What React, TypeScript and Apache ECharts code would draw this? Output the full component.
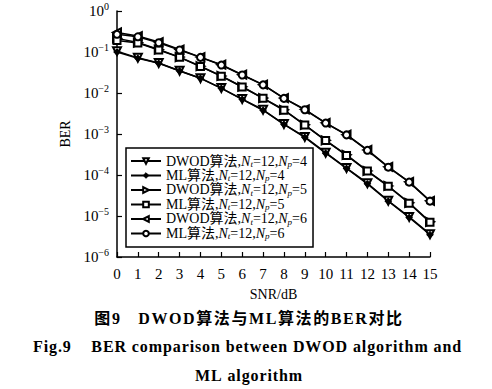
import React, { useEffect, useRef } from "react";
import * as echarts from "echarts";

const snr = [0, 1, 2, 3, 4, 5, 6, 7, 8, 9, 10, 11, 12, 13, 14, 15];
const dwodNp4 = [0.105, 0.072, 0.054, 0.035, 0.023, 0.0132, 0.0071, 0.0039, 0.00175, 0.00085, 0.00035, 0.000148, 6.3e-5, 2.35e-5, 9.5e-6, 3.6e-6];
const mlNp4 = [0.1, 0.07, 0.053, 0.0345, 0.0228, 0.013, 0.007, 0.0038, 0.00172, 0.00083, 0.00034, 0.000145, 6.1e-5, 2.3e-5, 9.2e-6, 3.5e-6];
const dwodNp5 = [0.215, 0.17, 0.115, 0.075, 0.045, 0.026, 0.0142, 0.0075, 0.0039, 0.00167, 0.0007, 0.00031, 0.000126, 5.4e-5, 2.1e-5, 7.2e-6];
const mlNp5 = [0.19, 0.165, 0.112, 0.074, 0.044, 0.0257, 0.014, 0.0074, 0.0038, 0.00165, 0.00069, 0.0003, 0.000125, 5.3e-5, 2.05e-5, 7e-6];
const dwodNp6 = [0.3, 0.245, 0.175, 0.115, 0.075, 0.049, 0.028, 0.016, 0.0075, 0.004, 0.00187, 0.00096, 0.00041, 0.000158, 6.8e-5, 2.35e-5];
const mlNp6 = [0.27, 0.235, 0.168, 0.112, 0.074, 0.048, 0.0275, 0.0158, 0.0074, 0.0039, 0.00185, 0.00095, 0.0004, 0.000155, 6.7e-5, 2.3e-5];

const seriesNames = ["DWOD4", "ML4", "DWOD5", "ML5", "DWOD6", "ML6"];
const legendLabels: Record<string, string> = {
  DWOD4: "{n|DWOD算法,}{i|N}{s|t}{n|=12,}{i|N}{s|p}{n|=4}",
  ML4: "{n|ML算法,}{i|N}{s|t}{n|=12,}{i|N}{s|p}{n|=4}",
  DWOD5: "{n|DWOD算法,}{i|N}{s|t}{n|=12,}{i|N}{s|p}{n|=5}",
  ML5: "{n|ML算法,}{i|N}{s|t}{n|=12,}{i|N}{s|p}{n|=5}",
  DWOD6: "{n|DWOD算法,}{i|N}{s|t}{n|=12,}{i|N}{s|p}{n|=6}",
  ML6: "{n|ML算法,}{i|N}{s|t}{n|=12,}{i|N}{s|p}{n|=6}",
};

const caption1 = "图9   DWOD算法与ML算法的BER对比";
const caption2 = "Fig.9    BER comparison between DWOD algorithm and";
const caption3 = "ML algorithm";

const SERIF = '"Liberation Serif", "DejaVu Serif", "Noto Sans CJK SC", serif';

const spaced = (s: string, style: string) =>
  s
    .split("")
    .map((c) => `{${style}|${c}}`)
    .join("");

export default function App() {
  const ref = useRef<HTMLDivElement>(null);
  useEffect(() => {
    const chart = echarts.init(ref.current!, undefined, { renderer: "svg" });
    const datasets = [dwodNp4, mlNp4, dwodNp5, mlNp5, dwodNp6, mlNp6];
    const symbols = ["emptyTriangle", "diamond", "emptyTriangle", "emptyRect", "emptyTriangle", "emptyCircle"];
    const rotates = [180, 0, -90, 0, 90, 0];
    const sizes = [8, 6, 8, 7, 8, 7];
    const series = datasets.map((d, k) => ({
      name: seriesNames[k],
      type: "line",
      data: snr.map((x, i) => [x, d[i]]),
      symbol: symbols[k],
      symbolRotate: rotates[k],
      symbolSize: sizes[k],
      showAllSymbol: true,
      lineStyle: { color: "#000", width: 1.5 },
      itemStyle: { color: "#000", borderColor: "#000", borderWidth: 1.2 },
      z: 3,
    }));
    const capRich = {
      a: { font: `bold 16px ${SERIF}`, fill: "#000", padding: [0, 0.9, 0, 0] },
      c: { font: `bold 16px ${SERIF}`, fill: "#000", padding: [0, 1.6, 0, 0] },
    };
    const option: any = {
      animation: false,
      backgroundColor: "#fff",
      grid: { left: 117, right: 62, top: 11, bottom: 132, containLabel: false },
      xAxis: {
        type: "value",
        min: 0,
        max: 15,
        interval: 1,
        name: "SNR/dB",
        nameLocation: "middle",
        nameGap: 30,
        nameTextStyle: { fontFamily: SERIF, fontSize: 14, color: "#000" },
        axisLine: { lineStyle: { color: "#000", width: 1.5 } },
        axisTick: { inside: true, length: 5, lineStyle: { color: "#000", width: 1.2 } },
        axisLabel: { fontFamily: SERIF, fontSize: 15, color: "#000", margin: 9 },
        splitLine: { show: false },
      },
      yAxis: {
        type: "log",
        min: 1e-6,
        max: 1,
        logBase: 10,
        name: "BER",
        nameLocation: "middle",
        nameGap: 36,
        nameTextStyle: { fontFamily: SERIF, fontSize: 14, color: "#000" },
        axisLine: { lineStyle: { color: "#000", width: 1.5 } },
        axisTick: { inside: true, length: 5, lineStyle: { color: "#000", width: 1.2 } },
        minorTick: { show: false },
        splitLine: { show: false },
        axisLabel: {
          margin: 8,
          formatter: (v: number) => {
            const e = Math.round(Math.log10(v));
            return e === 0 ? "{b|10}{s|0}" : `{b|10}{s|−${-e}}`;
          },
          rich: {
            b: { fontFamily: SERIF, fontSize: 15, color: "#000" },
            s: { fontFamily: SERIF, fontSize: 10, color: "#000", verticalAlign: "top", padding: [0, 0, 9, 0] },
          },
        },
      },
      legend: {
        left: 126,
        top: 148,
        orient: "vertical",
        width: 187,
        backgroundColor: "#fff",
        borderColor: "#000",
        borderWidth: 1.5,
        borderRadius: 0,
        padding: [6, 6, 6, 4],
        itemGap: 0,
        itemWidth: 30,
        itemHeight: 7,
        itemStyle: { borderWidth: 1 },
        data: seriesNames,
        formatter: (name: string) => legendLabels[name],
        textStyle: {
          color: "#000",
          rich: {
            n: { fontFamily: SERIF, fontSize: 14, color: "#000", lineHeight: 15 },
            i: { fontFamily: SERIF, fontSize: 14, fontStyle: "italic", color: "#000", lineHeight: 15 },
            s: { fontFamily: SERIF, fontSize: 9, fontStyle: "italic", color: "#000", verticalAlign: "bottom", padding: [5, 0, 0, 0], lineHeight: 15 },
          },
        },
      },
      graphic: [
        {
          type: "text",
          x: 249,
          y: 318,
          style: {
            text: spaced(caption1, "c"),
            rich: capRich,
            align: "center",
            verticalAlign: "middle",
          },
        },
        {
          type: "text",
          x: 33,
          y: 346,
          style: {
            text: spaced(caption2, "a"),
            rich: capRich,
            align: "left",
            verticalAlign: "middle",
          },
        },
        {
          type: "text",
          x: 249,
          y: 375,
          style: {
            text: spaced(caption3, "a"),
            rich: capRich,
            align: "center",
            verticalAlign: "middle",
          },
        },
      ],
      series,
    };
    chart.setOption(option);
    return () => chart.dispose();
  }, []);
  return <div ref={ref} style={{ width: 492, height: 389, position: "absolute", left: 0, top: 0 }} />;
}
